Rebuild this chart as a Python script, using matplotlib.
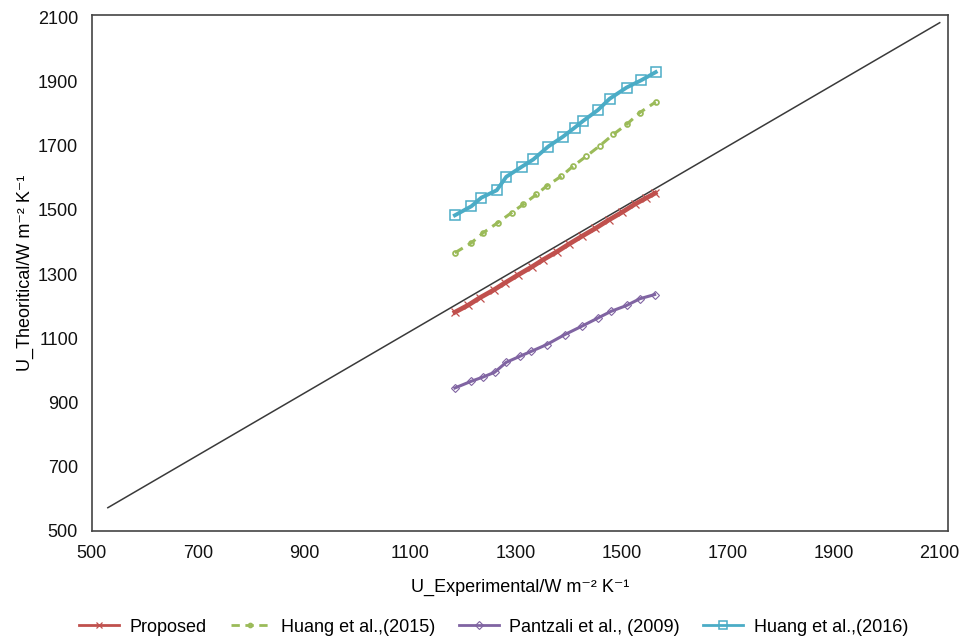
import matplotlib
matplotlib.use("Agg")
import matplotlib.pyplot as plt

plt.rcParams['font.family'] = ['Liberation Sans', 'DejaVu Sans']

# Reference line (y = fit)
ref_x = [530, 2100]
ref_y = [572, 2083]

# Proposed
prop_x = [1185, 1210, 1232, 1258, 1280, 1305, 1330, 1352, 1378, 1400, 1425, 1450, 1475, 1500, 1525, 1545, 1563]
prop_y = [1181, 1203, 1226, 1250, 1273, 1298, 1322, 1345, 1370, 1393, 1418, 1442, 1468, 1492, 1518, 1536, 1552]

# Huang et al.,(2015)
h15_x = [1185, 1216, 1238, 1266, 1292, 1314, 1339, 1358, 1386, 1408, 1433, 1458, 1484, 1509, 1534, 1564]
h15_y = [1366, 1397, 1428, 1460, 1491, 1517, 1548, 1574, 1605, 1636, 1667, 1699, 1735, 1766, 1803, 1836]

# Pantzali et al., (2009)
pan_x = [1185, 1216, 1238, 1260, 1282, 1308, 1329, 1358, 1392, 1424, 1455, 1480, 1509, 1534, 1562]
pan_y = [945, 966, 979, 994, 1025, 1044, 1059, 1080, 1111, 1137, 1163, 1184, 1202, 1223, 1236]

# Huang et al.,(2016)
h16_x = [1185, 1216, 1235, 1264, 1282, 1311, 1333, 1361, 1389, 1411, 1427, 1455, 1477, 1509, 1537, 1564]
h16_y = [1483, 1511, 1538, 1561, 1603, 1634, 1657, 1697, 1728, 1756, 1777, 1811, 1846, 1881, 1904, 1929]

ticks = [500, 700, 900, 1100, 1300, 1500, 1700, 1900, 2100]

fig = plt.figure(figsize=(9.78, 6.38), dpi=100)
ax = fig.add_axes([0.094, 0.168, 0.875, 0.808])

ax.plot(ref_x, ref_y, color='#3a3a3a', lw=1.1, zorder=2)
ax.plot(prop_x, prop_y, color='#C0504D', lw=3.4, marker='x', ms=6, mew=0.9,
        label='Proposed', zorder=3)
ax.plot(h15_x, h15_y, color='#9BBB59', lw=2.2, ls=(0, (3, 2)), marker='o', ms=3.5,
        mfc='none', mew=1.3, label='Huang et al.,(2015)', zorder=3)
ax.plot(pan_x, pan_y, color='#8064A2', lw=2.2, marker='D', ms=4.5, mfc='none',
        mew=0.8, label='Pantzali et al., (2009)', zorder=3)
ax.plot(h16_x, h16_y, color='#4BACC6', lw=2.8, marker='s', ms=6.5, mfc='none',
        mew=1.1, label='Huang et al.,(2016)', zorder=3)

ax.set_xlim(500, 2115)
ax.set_ylim(500, 2106)
ax.set_xticks(ticks)
ax.set_yticks(ticks)
ax.tick_params(axis='both', length=0, labelsize=13, colors='#111111')
ax.tick_params(axis='x', pad=10)
ax.tick_params(axis='y', pad=10)
for s in ax.spines.values():
    s.set_color('#444444')
    s.set_linewidth(1.2)

ax.set_xlabel('U_Experimental/W m\u207b\u00b2 K\u207b\u00b9', fontsize=13, labelpad=12)
ax.set_ylabel('U_Theoritical/W m\u207b\u00b2 K\u207b\u00b9', fontsize=13, labelpad=3)

leg = fig.legend(loc='lower center', bbox_to_anchor=(0.505, -0.022), ncol=4, frameon=False,
                 fontsize=13, handlelength=2.2, columnspacing=1.3, handletextpad=0.6,
                 markerscale=0.8)
for ln in leg.get_lines():
    ln.set_linewidth(2.0)

fig.savefig('out.png', dpi=100)
